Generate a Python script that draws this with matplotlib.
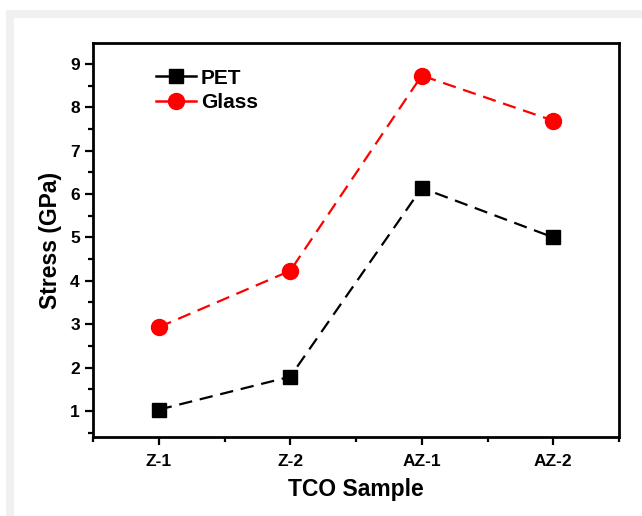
import matplotlib
matplotlib.use("Agg")
import matplotlib.pyplot as plt
from matplotlib.patches import Rectangle
from matplotlib.lines import Line2D
from matplotlib.ticker import MultipleLocator

plt.rcParams['font.family'] = ['Liberation Sans', 'DejaVu Sans']
plt.rcParams['font.weight'] = 'bold'

categories = ["Z-1", "Z-2", "AZ-1", "AZ-2"]
pet = [1.03, 1.79, 6.14, 5.0]
glass = [2.93, 4.23, 8.73, 7.69]

W, H = 642, 516
fig = plt.figure(figsize=(W/100, H/100), dpi=100)
fig.patch.set_facecolor('white')
# light gray frame bands
fig.patches.append(Rectangle((6/W, 1 - 18/H), 1 - 6/W, 8/H, transform=fig.transFigure,
                             facecolor='#f0f0f0', edgecolor='none', zorder=0))
fig.patches.append(Rectangle((6/W, 0), 8/W, 1 - 10/H, transform=fig.transFigure,
                             facecolor='#f0f0f0', edgecolor='none', zorder=0))

ax = fig.add_axes([93/W, 1 - 437/H, (619 - 93)/W, (437 - 43)/H])
x = list(range(1, len(categories) + 1))
ax.plot(x, pet, color='black', ls=(0, (6, 3.5)), lw=1.6, marker='s', ms=10.5)
ax.plot(x, glass, color='red', ls=(0, (6, 3.5)), lw=1.6, marker='o', ms=11.5)

ax.set_xlim(0.5, 4.5)
ax.set_ylim(0.4, 9.48)
ax.set_xticks(x)
ax.set_xticklabels(categories)
ax.xaxis.set_minor_locator(MultipleLocator(0.5))
ax.yaxis.set_major_locator(MultipleLocator(1))
ax.yaxis.set_minor_locator(MultipleLocator(0.5))
ax.tick_params(which='major', direction='out', length=6, width=1.6, labelsize=12.5, pad=3.5)
ax.tick_params(which='minor', direction='out', length=3.5, width=1.6)
ax.tick_params(axis='x', which='major', pad=6)
for lab in ax.get_xticklabels() + ax.get_yticklabels():
    lab.set_fontweight('bold')
for s in ax.spines.values():
    s.set_linewidth(2)

ax.set_xlabel('TCO Sample', fontsize=16.5, fontweight='bold', labelpad=7)
ax.set_ylabel('Stress (GPa)', fontsize=16.5, fontweight='bold', labelpad=6)

handles = [Line2D([], [], color='black', lw=1.8, marker='s', ms=10.5),
           Line2D([], [], color='red', lw=1.8, marker='o', ms=11.5)]
leg = ax.legend(handles, ['PET', 'Glass'], loc='upper left', bbox_to_anchor=(0.12, 0.935),
                frameon=False, borderpad=0, borderaxespad=0,
                prop={'weight': 'bold', 'size': 15}, handlelength=1.9,
                handletextpad=0.25, labelspacing=0.28)

fig.savefig('out.png', dpi=100)
